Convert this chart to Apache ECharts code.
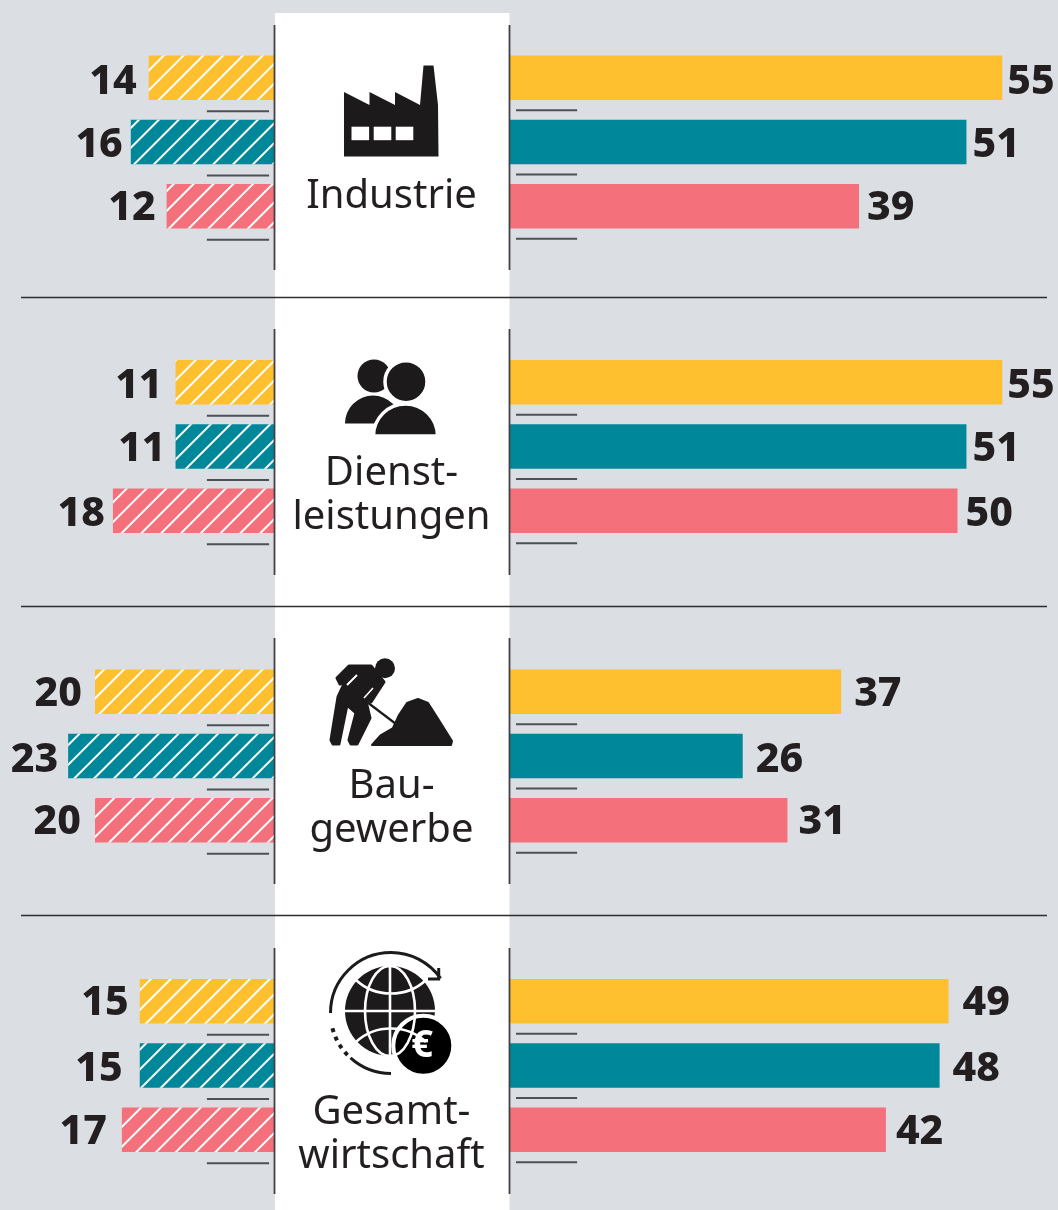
<!DOCTYPE html>
<html><head><meta charset="utf-8">
<style>html,body{margin:0;padding:0;background:#dbdee3}#c{width:1058px;height:1210px}</style>
<script src="https://cdn.jsdelivr.net/npm/echarts@6/dist/echarts.min.js"></script>
</head><body><div id="c"></div>
<script>
// Data
const groups = ['Gelb', 'Petrol', 'Rot'];
const sectorLabels = [['Industrie'], ['Dienst-', 'leistungen'], ['Bau-', 'gewerbe'], ['Gesamt-', 'wirtschaft']];
const leftIndustrie = [14, 16, 12];
const leftDienstleistungen = [11, 11, 18];
const leftBaugewerbe = [20, 23, 20];
const leftGesamt = [15, 15, 17];
const rightIndustrie = [55, 51, 39];
const rightDienstleistungen = [55, 51, 50];
const rightBaugewerbe = [37, 26, 31];
const rightGesamt = [49, 48, 42];
const leftValues = [leftIndustrie, leftDienstleistungen, leftBaugewerbe, leftGesamt];
const rightValues = [rightIndustrie, rightDienstleistungen, rightBaugewerbe, rightGesamt];

// Style / layout
const colors = ['#ffc02f', '#00889a', '#f4717c'];
const BG = '#dbdee3', INK = '#231f20', DARK = '#1c1a1b';
const panelTops = [45.5, 350, 659.5, 969];
const leftGaps = [[12, 8, 11], [13, 10, 8], [13, 10, 14], [11, 17, 15]];
const rightGaps = [[5, 6, 8], [5, 6, 8], [13, 13, 11], [14, 13, 10]];
const labelDrop = [[5, 3, 2], [4, 3, 3], [3, 4, 2], [2, 4, 2]];
const UNIT = 8.95, XL = 274, XR = 510;
const hatch = { symbol: 'rect', dashArrayX: [1, 0], dashArrayY: [2, 12], rotation: -Math.PI / 4, color: '#ffffff', symbolSize: 1 };

const grids = [], xAxes = [], yAxes = [], series = [];
function addSide(p, side) {
  const idx = grids.length, isL = side === 'L';
  const vals = (isL ? leftValues : rightValues)[p], gaps = (isL ? leftGaps : rightGaps)[p];
  const span = isL ? 30 : 60;
  grids.push({ left: isL ? XL - span * UNIT : XR, top: panelTops[p], width: span * UNIT, height: 193 });
  xAxes.push({ type: 'value', gridIndex: idx, min: 0, max: span, inverse: isL, show: false });
  yAxes.push({ type: 'category', gridIndex: idx, data: groups, inverse: true, show: false });
  series.push({
    type: 'bar', xAxisIndex: idx, yAxisIndex: idx, barWidth: 44.5, silent: true,
    data: vals.map((v, i) => ({
      value: v,
      itemStyle: isL ? { color: colors[i], decal: hatch } : { color: colors[i] },
      label: { distance: gaps[i], offset: [0, labelDrop[p][i]] }
    })),
    label: { show: true, position: isL ? 'left' : 'right', fontFamily: 'Noto Sans', fontWeight: 800, fontSize: 41, color: INK }
  });
  const dashA = isL ? 0.55 : 0.67, dashB = 7.5, dy = isL ? 33.5 : 32.5;
  series.push({
    type: 'custom', xAxisIndex: idx, yAxisIndex: idx, silent: true, clip: false,
    data: groups.map((g, i) => [0, i]),
    renderItem(params, api) {
      const a = api.coord([dashA, api.value(1)]), b = api.coord([dashB, api.value(1)]);
      return { type: 'line', shape: { x1: a[0], y1: a[1] + dy, x2: b[0], y2: b[1] + dy }, style: { stroke: '#4d5055', lineWidth: 2 } };
    }
  });
}
panelTops.forEach((t, p) => { addSide(p, 'L'); addSide(p, 'R'); });

// Decoration
const g = [];
const line = (x1, y1, x2, y2, stroke, lineWidth, z) => g.push({ type: 'line', z: z || 5, shape: { x1, y1, x2, y2 }, style: { stroke, lineWidth } });
const poly = (pts, fill, z) => g.push({ type: 'polygon', z: z || 6, shape: { points: pts }, style: { fill } });
const circ = (cx, cy, r, fill, extra) => g.push({ type: 'circle', z: 6, shape: { cx, cy, r }, style: Object.assign({ fill }, extra || {}) });
g.push({ type: 'rect', z: 1, shape: { x: 275, y: 13, width: 234.5, height: 1197 }, style: { fill: '#fff' } });
[297.5, 606.5, 915.5].forEach(y => line(21, y, 1047, y, '#2d2d2f', 1.5));
[[25, 270], [329, 575], [638, 884], [948, 1194]].forEach(r => {
  line(274.5, r[0], 274.5, r[1], '#3f4144', 1.8, 20);
  line(509.5, r[0], 509.5, r[1], '#3f4144', 1.8, 20);
});
const label = (txt, y) => g.push({ type: 'text', z: 6, x: 391.5, y, style: { text: txt, fill: INK, font: '400 40px "Noto Sans"', textAlign: 'center', textVerticalAlign: 'middle' } });
[[197], [474, 518], [787, 831], [1113, 1157]].forEach((ys, i) => ys.forEach((y, j) => label(sectorLabels[i][j], y)));

// Factory icon
poly([[344, 92], [369.5, 105], [369.5, 92], [395, 105], [395, 92], [420, 105], [423.5, 65.5], [433.5, 65.5], [438, 105], [438.5, 156.5], [344, 156.5]], DARK);
[351.5, 373.7, 395.7].forEach(x => g.push({ type: 'rect', z: 7, shape: { x, y: 126.7, width: 17.6, height: 13.5 }, style: { fill: '#fff' } }));

// People icon
circ(374, 376, 16.5, DARK);
g.push({ type: 'sector', z: 6, shape: { cx: 373, cy: 423.5, r0: 0, r: 28, startAngle: Math.PI, endAngle: Math.PI * 2 }, style: { fill: DARK } });
circ(406, 381.7, 21, DARK, { stroke: '#fff', lineWidth: 3.5 });
g.push({ type: 'sector', z: 6, shape: { cx: 405.5, cy: 436, r0: 0, r: 32, startAngle: Math.PI, endAngle: Math.PI * 2 }, style: { fill: DARK, stroke: '#fff', lineWidth: 3.5 } });
g.push({ type: 'rect', z: 7, shape: { x: 340, y: 436, width: 100, height: 6 }, style: { fill: '#fff' } });

// Worker icon
circ(385, 668.3, 10, DARK);
g.push({
  type: 'polygon', z: 6,
  shape: { points: [[337, 678], [349, 666], [371, 666], [384, 682], [371, 702], [365, 697], [370, 718], [357, 744], [351, 744], [349, 740], [356, 713], [347, 705], [339, 744], [333, 744], [331, 740], [338, 697], [345, 682], [340, 684]] },
  style: { fill: DARK, stroke: DARK, lineWidth: 3, lineJoin: 'round' }
});
line(347, 685, 357, 675, '#fff', 2, 7);
line(364, 698, 373, 688, '#fff', 1.6, 7);
line(363, 699, 396, 724, DARK, 2.2, 6);
g.push({
  type: 'polygon', z: 6,
  shape: { points: [[372, 745], [381, 735], [393, 728], [399, 715], [407, 703], [418, 699], [428, 703], [437, 717], [452, 741], [451, 745]] },
  style: { fill: DARK, stroke: DARK, lineWidth: 2, lineJoin: 'round' }
});

// Globe icon
circ(390, 1011, 45, DARK);
const W = { stroke: '#fff', lineWidth: 2.6, fill: 'none' };
line(390, 966, 390, 1056, '#fff', 2.6, 7);
line(345, 1011, 435, 1011, '#fff', 2.6, 7);
g.push({ type: 'ellipse', z: 7, shape: { cx: 390, cy: 1011, rx: 25, ry: 45 }, style: W });
g.push({ type: 'bezierCurve', z: 7, shape: { x1: 356, y1: 980, x2: 426, y2: 980, cpx1: 375, cpy1: 998, cpx2: 407, cpy2: 998 }, style: W });
g.push({ type: 'bezierCurve', z: 7, shape: { x1: 356, y1: 1042, x2: 426, y2: 1042, cpx1: 375, cpy1: 1024, cpx2: 407, cpy2: 1024 }, style: W });
const A = { stroke: DARK, lineWidth: 3, fill: 'none' };
const rad = d => d * Math.PI / 180;
g.push({ type: 'arc', z: 6, shape: { cx: 391, cy: 1013, r: 60.5, startAngle: rad(180), endAngle: rad(325) }, style: A });
g.push({ type: 'arc', z: 6, shape: { cx: 391, cy: 1013, r: 60.5, startAngle: rad(90), endAngle: rad(132) }, style: A });
g.push({ type: 'arc', z: 6, shape: { cx: 391, cy: 1013, r: 60.5, startAngle: rad(136), endAngle: rad(170) }, style: { stroke: DARK, lineWidth: 4, fill: 'none', lineDash: [4, 5] } });
line(438.7, 968, 438.7, 980, DARK, 3, 6);
line(428, 979, 440, 979, DARK, 3, 6);
circ(423.3, 1045.7, 30, '#000', { stroke: '#fff', lineWidth: 4 });
g.push({ type: 'text', z: 8, x: 422, y: 1046, style: { text: '€', fill: '#fff', font: '700 38px "Noto Sans"', textAlign: 'center', textVerticalAlign: 'middle' } });

const chart = echarts.init(document.getElementById('c'), null, { renderer: 'canvas' });
chart.setOption({
  animation: false, backgroundColor: BG,
  grid: grids, xAxis: xAxes, yAxis: yAxes, series, graphic: { elements: g }
});
</script></body></html>
